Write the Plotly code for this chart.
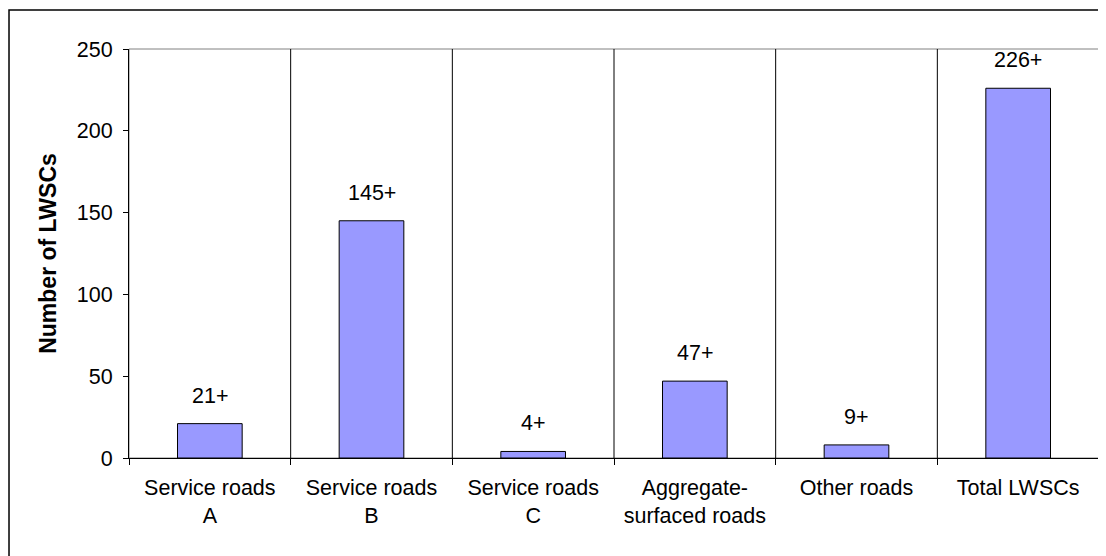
import plotly.graph_objects as go

categories = ["Service roads<br>A", "Service roads<br>B", "Service roads<br>C",
              "Aggregate-<br>surfaced roads", "Other roads", "Total LWSCs"]
counts = [21, 145, 4, 47, 8, 226]
labels = ["21+", "145+", "4+", "47+", "9+", "226+"]

FONT = "Liberation Sans, Arial, sans-serif"

fig = go.Figure()

fig.add_trace(go.Bar(x=categories, y=counts, width=0.4,
                     marker=dict(color="#9999FF", line=dict(color="black", width=1))))

# value labels above bars
for c, v, t in zip(categories, counts, labels):
    fig.add_annotation(x=c, y=v, text=t, showarrow=False, yanchor="bottom", yshift=14,
                       font=dict(size=21.5, color="black", family=FONT))

# vertical separators between categories
for i in range(len(categories) - 1):
    fig.add_shape(type="line", xref="x", yref="y domain", x0=i + 0.5, x1=i + 0.5, y0=0, y1=1,
                  line=dict(color="black", width=1))

# plot frame (gray) and outer chart border
fig.add_shape(type="rect", xref="x domain", yref="y domain", x0=0, x1=1, y0=0, y1=1,
              line=dict(color="#808080", width=1), layer="below")
fig.add_shape(type="rect", xref="paper", yref="paper", x0=-0.1237, x1=1.06, y0=-0.4, y1=1.0954,
              line=dict(color="black", width=1.5), layer="below")

fig.update_layout(
    width=1106, height=556,
    margin=dict(l=121, r=15, t=41, b=106),
    paper_bgcolor="white", plot_bgcolor="white",
    font=dict(family=FONT, size=21.5, color="black"),
    showlegend=False,
    bargap=0.6,
)
fig.update_xaxes(showline=True, linecolor="black", linewidth=1, ticks="outside", ticklen=6,
                 tickcolor="black", tickson="boundaries", showgrid=False, tickfont=dict(size=21.5),
                 ticklabelstandoff=10, range=[-0.5, 5.5])
fig.update_yaxes(range=[0, 250], dtick=50, showline=True, linecolor="black", linewidth=1,
                 ticks="outside", ticklen=5, tickcolor="black", showgrid=False, zeroline=False,
                 ticklabelstandoff=6, tickfont=dict(size=21.5),
                 title=dict(text="<b>Number of LWSCs</b>", font=dict(size=23, family=FONT), standoff=13))

fig.write_html("out.html")
